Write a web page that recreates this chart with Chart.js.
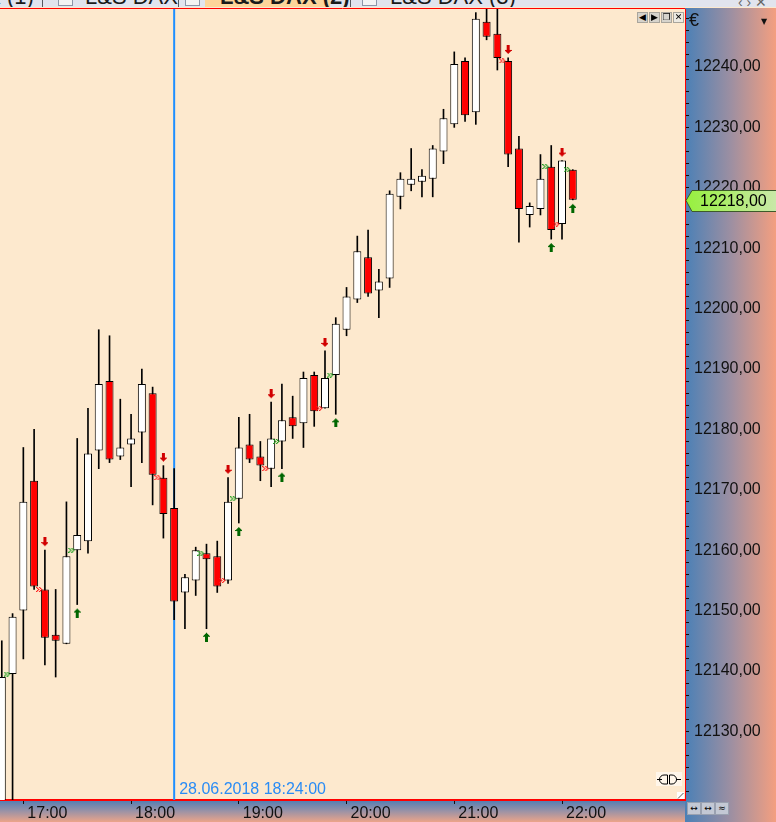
<!DOCTYPE html>
<html>
<head>
<meta charset="utf-8">
<script src="https://cdn.jsdelivr.net/npm/chart.js@4.4.1/dist/chart.umd.min.js"></script>
<style>
  html, body { margin: 0; padding: 0; background: #fde9ce; }
  #wrap { position: relative; width: 776px; height: 822px; overflow: hidden; font-family: 'Liberation Sans', Arial, sans-serif; }
  #tabs { position: absolute; left: 0; top: 0; width: 776px; height: 7px; background: #e1e4ee; overflow: hidden; }
  .tabtxt { position: absolute; top: -15px; font-size: 22px; line-height: 24px; color: #1a1a1a; white-space: nowrap; }
  .tabsep { position: absolute; top: 0; width: 1px; height: 7px; background: #55595f; }
  .tabico { position: absolute; top: 0; width: 13px; height: 5px; background: #f4f4f4; border: 1px solid #8c96a8; border-top: none; }
  .btn { position: absolute; width: 9px; height: 9px; background: #d6d3cc; border: 1px solid #a9a59c; font-size: 9px; line-height: 9px; text-align: center; color: #000; font-family: 'DejaVu Sans', sans-serif; }
  .cbtn { position: absolute; top: 802px; width: 12px; height: 11px; background: #c3c8d4; border: 1px solid #9aa1b0; font-size: 9px; line-height: 11px; text-align: center; color: #000; font-family: 'DejaVu Sans', sans-serif; }
</style>
</head>
<body>
<div id="wrap">
  <canvas id="c" width="776" height="822"></canvas>
  <div id="tabs">
    <div class="tabtxt" style="left:-92px;">L&amp;S DAX (1)</div>
    <div class="tabsep" style="left:42px;"></div>
    <div class="tabico" style="left:58px;"></div>
    <div class="tabtxt" style="left:85px;">L&amp;S DAX</div>
    <div class="tabsep" style="left:178px;"></div>
    <div class="tabico" style="left:185px;"></div>
    <div style="position:absolute;left:205px;top:0;width:125px;height:7px;background:#fdd59a;"></div>
    <div class="tabtxt" style="left:220px;font-weight:bold;">L&amp;S DAX (2)</div>
    <div class="tabsep" style="left:350px;"></div>
    <div class="tabico" style="left:362px;"></div>
    <div class="tabtxt" style="left:390px;">L&amp;S DAX (3)</div>
    <div class="tabtxt" style="left:738px;font-size:14px;top:-10px;color:#666;">‹ › ✕</div>
  </div>
  <div class="btn" style="left:637px;top:12px;">◀</div>
  <div class="btn" style="left:649px;top:12px;">▶</div>
  <div class="btn" style="left:661px;top:12px;">❐</div>
  <div class="btn" style="left:673px;top:12px;background:#ece9e2;">✕</div>
  <div style="position:absolute;left:689px;top:10px;font-size:18px;color:#111;">€</div>
  <div style="position:absolute;left:761px;top:17px;font-size:8px;color:#111;font-family:'DejaVu Sans',sans-serif;">▼</div>
  <div class="cbtn" style="left:687px;">↔</div>
  <div class="cbtn" style="left:701px;">↔</div>
  <div class="cbtn" style="left:715px;">≈</div>
</div>
<script>
// 6-minute candles, L&S DAX, 28.06.2018
const times = ['16:48','16:54','17:00','17:06','17:12','17:18','17:24','17:30','17:36','17:42',
  '17:48','17:54','18:00','18:06','18:12','18:18','18:24','18:30','18:36','18:42',
  '18:48','18:54','19:00','19:06','19:12','19:18','19:24','19:30','19:36','19:42',
  '19:48','19:54','20:00','20:06','20:12','20:18','20:24','20:30','20:36','20:42',
  '20:48','20:54','21:00','21:06','21:12','21:18','21:24','21:30','21:36','21:42',
  '21:48','21:54','22:00','22:06'];
const opens = [12114, 12139.5, 12150, 12171.5, 12153.5, 12146, 12144.5, 12160, 12161.5, 12176.5,
  12188, 12175.5, 12177.5, 12179.5, 12186, 12172, 12167, 12153, 12155, 12159.5,
  12159, 12155, 12168.5, 12177.5, 12175.5, 12173.5, 12178, 12182, 12181, 12189,
  12183.5, 12189, 12196.5, 12201.5, 12208.5, 12203, 12205, 12218.5, 12220.5, 12221,
  12221.5, 12226, 12230.5, 12241, 12232.5, 12247.5, 12245.5, 12241, 12226.5, 12215.5,
  12216.5, 12223.5, 12214, 12223];
const highs = [12145, 12149.5, 12177, 12180, 12160, 12153.5, 12168, 12178.5, 12183.5, 12196.5,
  12195.5, 12185, 12182.5, 12190, 12187, 12174, 12173.5, 12156, 12160.5, 12161,
  12161.5, 12172, 12182, 12182.5, 12178, 12184.5, 12187.5, 12185.5, 12189.5, 12189.5,
  12193, 12198.5, 12203.5, 12212, 12213, 12206.5, 12219.5, 12222.5, 12226.5, 12223,
  12227, 12233, 12242.5, 12241.5, 12249, 12251, 12251, 12241.5, 12228.5, 12217.5,
  12225.5, 12227, 12224.5, 12223];
const lows = [12110, 12116, 12142, 12153.5, 12141, 12139, 12144.5, 12151, 12159.5, 12173.5,
  12174.5, 12175, 12170.5, 12174.5, 12167.5, 12162, 12148.5, 12147, 12152.5, 12147,
  12153, 12154.5, 12164.5, 12174.5, 12171.5, 12170.5, 12173.5, 12178.5, 12177, 12180.5,
  12183.5, 12182.5, 12195.5, 12201, 12202, 12198.5, 12203.5, 12216.5, 12219.5, 12218.5,
  12218.5, 12224, 12230, 12231, 12230.5, 12244.5, 12239.5, 12223.5, 12211, 12213.5,
  12215.5, 12211.5, 12211.5, 12218];
const closes = [12139, 12149, 12168, 12154, 12145.5, 12145, 12159, 12162.5, 12176, 12187.5,
  12175, 12177, 12178.5, 12187.5, 12172.5, 12166, 12151.5, 12155.5, 12160, 12158.5,
  12154, 12168, 12177, 12175, 12174, 12178.5, 12181.5, 12180.5, 12188.5, 12183,
  12188.5, 12197.5, 12202, 12209.5, 12202.5, 12204.5, 12219, 12221.5, 12221.5, 12222,
  12226.5, 12231.5, 12240.5, 12232, 12248, 12245, 12241.5, 12225.5, 12216.5, 12217,
  12221.5, 12213, 12224.5, 12218];

// signals: buy = green up arrow under the bar, sell = red down arrow over the bar
const buyTimes = ['16:54','17:30','18:42','19:00','19:24','19:54','21:54','22:06'];
const sellTimes = ['17:12','18:18','18:54','19:18','19:48','21:30','22:00'];

const hourLabels = ['17:00','18:00','19:00','20:00','21:00','22:00'];
const priceLabels = [12130, 12140, 12150, 12160, 12170, 12180, 12190, 12200, 12210, 12220, 12230, 12240];
const minorStep = 2;
const markTime = '18:24';
const markLabel = '28.06.2018 18:24:00';

const toMin = s => { const [h, m] = s.split(':').map(Number); return h * 60 + m; };
const idxOf = s => times.indexOf(s);
const fmtPrice = v => v.toFixed(2).replace('.', ',');

// kleine Pixel-Symbole für die Signale
function arrowImg(color, down) {
  const c = document.createElement('canvas');
  c.width = 7; c.height = 26;
  const g = c.getContext('2d');
  g.fillStyle = color;
  const rows = [[2,3],[2,3],[2,3],[2,3],[2,3],[0,7],[1,5],[2,3],[3,1]];
  rows.forEach(([x, w], r) => g.fillRect(x, down ? r : 25 - r, w, 1));
  return c;
}
function chevronImg(color) {
  const c = document.createElement('canvas');
  c.width = 18; c.height = 5;
  const g = c.getContext('2d');
  const px = [[0,0],[1,1],[2,2],[1,3],[0,4]];
  [0, 3].forEach(s => px.forEach(([dx, dy]) => {
    g.fillStyle = color;
    g.fillRect(s + dx, dy, 1, 1);
    g.globalAlpha = 0.45;
    g.fillRect(s + dx + 1, dy, 1, 1);
    g.globalAlpha = 1;
  }));
  return c;
}

const bodyData = times.map((t, i) => ({ x: toMin(t), y: [Math.min(opens[i], closes[i]), Math.max(opens[i], closes[i])] }));
const wickData = times.map((t, i) => ({ x: toMin(t), y: [lows[i], highs[i]] }));
const bodyColors = times.map((t, i) => closes[i] >= opens[i] ? '#ffffff' : '#ff0000');

const paneDecor = {
  id: 'paneDecor',
  beforeDraw(chart) {
    const { ctx, chartArea: a } = chart;
    ctx.save();
    ctx.fillStyle = '#fde9ce';
    ctx.fillRect(a.left, a.top, a.right - a.left, a.bottom - a.top);
    const gr = ctx.createLinearGradient(a.right, 0, chart.width, 0);
    gr.addColorStop(0, '#4b80b6');
    gr.addColorStop(0.5, '#9c8fa2');
    gr.addColorStop(1, '#f49f80');
    ctx.fillStyle = gr;
    ctx.fillRect(a.right, a.top - 1, chart.width - a.right, chart.height);
    const gb = ctx.createLinearGradient(0, a.bottom, 0, chart.height);
    gb.addColorStop(0, '#4f7db4');
    gb.addColorStop(0.5, '#9a92a6');
    gb.addColorStop(1, '#eca489');
    ctx.fillStyle = gb;
    ctx.fillRect(0, a.bottom, a.right, chart.height - a.bottom);
    ctx.restore();
  },
  beforeDatasetsDraw(chart) {
    const { ctx, chartArea: a, scales: { x } } = chart;
    const px = x.getPixelForValue(toMin(markTime));
    ctx.save();
    ctx.strokeStyle = '#1e8fff';
    ctx.lineWidth = 2;
    ctx.beginPath();
    ctx.moveTo(px, a.top);
    ctx.lineTo(px, a.bottom);
    ctx.stroke();
    ctx.restore();
  },
  afterDraw(chart) {
    const { ctx, chartArea: a, scales: { x, y } } = chart;
    ctx.save();
    // roter Rahmen oben
    ctx.strokeStyle = '#ff0000';
    ctx.lineWidth = 1;
    ctx.beginPath();
    ctx.moveTo(0, a.top - 0.5);
    ctx.lineTo(a.right, a.top - 0.5);
    ctx.stroke();

    // Zeitstempel der Markierung
    const px = x.getPixelForValue(toMin(markTime));
    ctx.font = '16px "Liberation Sans", Arial, sans-serif';
    ctx.fillStyle = '#2a8cf5';
    ctx.textBaseline = 'alphabetic';
    ctx.textAlign = 'left';
    ctx.fillText(markLabel, px + 5, a.bottom - 6);

    // Kursmarke letzter Schlusskurs
    const last = closes[closes.length - 1];
    const py = Math.round(y.getPixelForValue(last)) + 0.5;
    const gl = ctx.createLinearGradient(a.right, 0, chart.width, 0);
    gl.addColorStop(0, '#96f03c');
    gl.addColorStop(1, '#c9e8a8');
    ctx.fillStyle = gl;
    ctx.strokeStyle = '#3d5a2a';
    ctx.beginPath();
    ctx.moveTo(a.right + 1, py);
    ctx.lineTo(a.right + 7, py - 10);
    ctx.lineTo(chart.width + 1, py - 10);
    ctx.lineTo(chart.width + 1, py + 11);
    ctx.lineTo(a.right + 7, py + 11);
    ctx.closePath();
    ctx.fill();
    ctx.stroke();
    ctx.fillStyle = '#000';
    ctx.textBaseline = 'middle';
    ctx.fillText(fmtPrice(last), a.right + 15, py + 1);

    // kleine Symbole unten rechts
    ctx.fillStyle = '#fff6ea';
    ctx.fillRect(656, 772, 26, 14);
    ctx.strokeStyle = '#000';
    ctx.lineWidth = 1;
    ctx.beginPath();
    ctx.moveTo(657, 779.5); ctx.lineTo(662, 779.5);
    ctx.moveTo(676, 779.5); ctx.lineTo(681, 779.5);
    ctx.moveTo(667.5, 775); ctx.lineTo(664, 775); ctx.arc(664, 779.5, 4.5, -Math.PI / 2, Math.PI / 2, true); ctx.lineTo(667.5, 784);
    ctx.moveTo(669.5, 775); ctx.lineTo(672, 775); ctx.arc(672, 779.5, 4.5, -Math.PI / 2, Math.PI / 2); ctx.lineTo(669.5, 784);
    ctx.moveTo(667.5, 775); ctx.lineTo(667.5, 784);
    ctx.moveTo(669.5, 775); ctx.lineTo(669.5, 784);
    ctx.stroke();
    ctx.fillStyle = '#ffffff';
    ctx.fillRect(677, 792, 7, 7);
    ctx.strokeStyle = '#555';
    ctx.beginPath();
    ctx.moveTo(678, 798.5); ctx.lineTo(683.5, 793);
    ctx.stroke();
    ctx.restore();
  }
};

new Chart(document.getElementById('c'), {
  type: 'bar',
  data: {
    datasets: [
      {
        type: 'scatter',
        data: sellTimes.map(t => ({ x: toMin(t), y: highs[idxOf(t)] })),
        pointStyle: arrowImg('#d10000', true),
        pointRadius: 5
      },
      {
        type: 'scatter',
        data: buyTimes.map(t => ({ x: toMin(t), y: lows[idxOf(t)] })),
        pointStyle: arrowImg('#006600', false),
        pointRadius: 5
      },
      {
        type: 'scatter',
        data: sellTimes.map(t => ({ x: toMin(t), y: opens[idxOf(t)] })),
        pointStyle: chevronImg('#ff1a1a'),
        pointRadius: 5
      },
      {
        type: 'scatter',
        data: buyTimes.map(t => ({ x: toMin(t), y: opens[idxOf(t)] })),
        pointStyle: chevronImg('#1f9e1f'),
        pointRadius: 5
      },
      {
        data: bodyData,
        backgroundColor: bodyColors,
        borderColor: '#000',
        borderWidth: 1,
        borderSkipped: false,
        barThickness: 8,
        grouped: false,
        inflateAmount: 0
      },
      {
        data: wickData,
        backgroundColor: '#000',
        borderWidth: 0,
        barThickness: 1,
        grouped: false
      }
    ]
  },
  options: {
    responsive: false,
    devicePixelRatio: 1,
    animation: false,
    events: [],
    layout: { autoPadding: false, padding: { top: 9, left: 0, right: 0, bottom: 0 } },
    plugins: { legend: { display: false }, tooltip: { enabled: false } },
    scales: {
      x: {
        type: 'linear',
        position: 'bottom',
        min: 1007,
        max: 1388.5,
        bounds: 'data',
        offset: false,
        grid: { offset: false, drawOnChartArea: false, drawTicks: true, tickLength: 4, color: '#111' },
        border: { display: true, color: '#ff0000', width: 2 },
        afterBuildTicks: s => { s.ticks = hourLabels.map(h => ({ value: toMin(h) })); },
        afterFit: s => { s.height = 22; s.paddingLeft = 0; s.paddingRight = 0; },
        ticks: {
          align: 'start',
          labelOffset: 4,
          padding: 0,
          autoSkip: false,
          maxRotation: 0,
          color: '#111',
          font: { size: 16, family: '"Liberation Sans", Arial, sans-serif' },
          callback: v => hourLabels.find(h => toMin(h) === v) || ''
        }
      },
      y: {
        type: 'linear',
        position: 'right',
        min: 12118.64,
        max: 12249.6,
        bounds: 'data',
        beginAtZero: false,
        grid: { drawOnChartArea: false, drawTicks: true, tickLength: 4, color: '#111' },
        border: { display: true, color: '#ff0000', width: 1 },
        afterBuildTicks: s => {
          const ticks = [];
          for (let v = priceLabels[0] - 10; v <= priceLabels[priceLabels.length - 1] + 8; v += minorStep) ticks.push({ value: v });
          s.ticks = ticks;
        },
        afterFit: s => { s.width = 91; s.paddingTop = 0; s.paddingBottom = 0; },
        ticks: {
          autoSkip: false,
          padding: 5,
          color: '#111',
          font: { size: 16, family: '"Liberation Sans", Arial, sans-serif' },
          callback: v => (priceLabels.includes(v) ? fmtPrice(v) : '')
        }
      }
    }
  },
  plugins: [paneDecor]
});
</script>
</body>
</html>
